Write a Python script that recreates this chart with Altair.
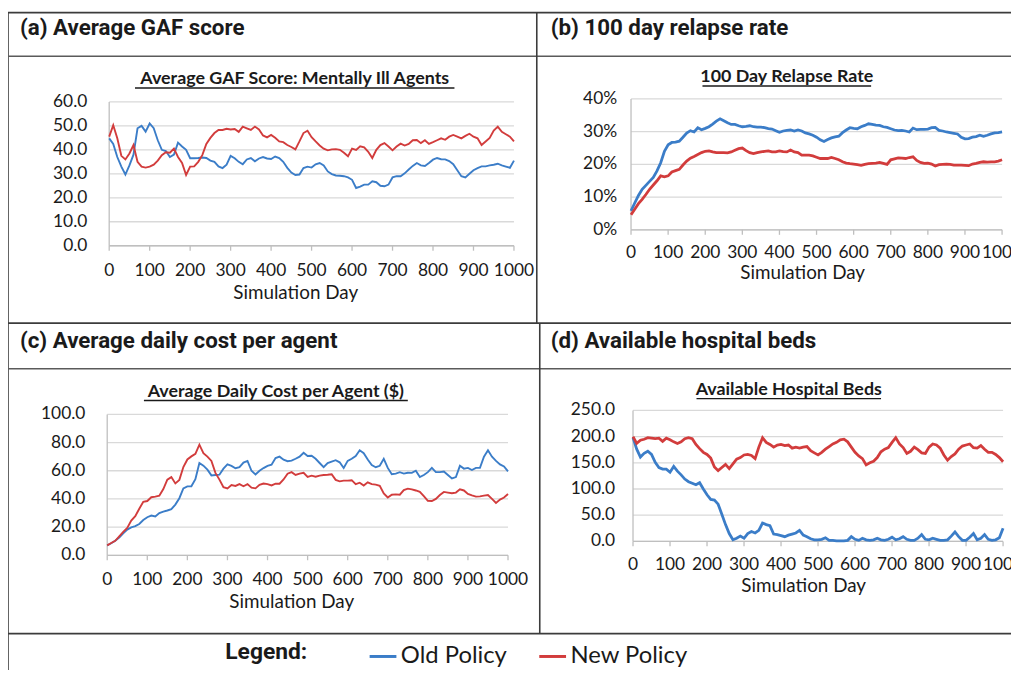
import altair as alt
import pandas as pd

# ---------------- data ----------------
days = list(range(0, 1001, 10))

gaf_old = [44.8, 42.5, 37, 33, 29.7, 33.5, 38, 49, 50, 47.6,
           51, 49, 44, 40, 39.5, 37, 38, 43, 41.4, 40,
           36.5, 36.5, 36.6, 36.8, 36.6, 35.5, 35, 33.1, 32.4, 33.8,
           37.5, 36.5, 35, 34, 36, 36.6, 35.2, 36.4, 37, 36.4,
           36.2, 37.2, 36.6, 35, 32.5, 30.5, 29.5, 29.7, 32.4, 33,
           32.6, 34, 34.5, 33.5, 31, 29.9, 29.3, 29.2, 29, 28.5,
           27.5, 24.1, 24.7, 25.5, 25.5, 26.9, 26.5, 25, 24.8, 25.5,
           28.5, 29, 29, 30.2, 31.8, 33.3, 34.5, 33.5, 33.3, 34.5,
           35.9, 36.6, 36.1, 36, 35.3, 34, 31.5, 29, 28.5, 30,
           31.5, 32.4, 33.1, 33.1, 33.5, 33.8, 34.2, 33.5, 33, 32.5,
           35.5]
gaf_new = [45.5, 50.3, 44.8, 37.5, 36, 38.5, 42, 35, 33, 32.6,
           33, 33.8, 35.5, 37.8, 39, 38.8, 40.5, 37, 34.5, 29.5,
           33, 33.1, 35, 37.8, 42.5, 45, 47, 48.3, 48.3, 48.8,
           48.5, 48.7, 47.5, 49.7, 49, 48.3, 49.7, 48.5, 46, 45.2,
           46.2, 45, 43.5, 43.2, 42, 41.2, 40.2, 43.5, 47, 48,
           45.3, 43.5, 41.8, 40.5, 39.8, 40.2, 40.3, 40, 38.8, 37.3,
           40.5, 40, 41.5, 41, 39.2, 36.6, 40, 42, 42.8, 41.4,
           39.8, 41.4, 42.6, 41.8, 42.5, 44, 44.1, 42.8, 44, 42.5,
           43.2, 44, 44.8, 44.2, 45.5, 46.2, 45.5, 44.8, 45.8, 46.7,
           45.5, 44.8, 42, 43.5, 45, 48, 49.7, 47.5, 46.5, 45.5,
           43.5]

relapse_old = [5.8, 8.2, 10.5, 12.4, 13.6, 14.8, 16, 18, 20.5, 24,
               26, 26.7, 26.8, 27.1, 28.3, 29.6, 30.3, 29.9, 31.2, 30.6,
               31, 31.5, 32.3, 33.2, 33.9, 33.3, 32.7, 32.2, 32.2, 31.8,
               31.5, 31.6, 31.8, 31.5, 31.4, 31.4, 31.2, 30.9, 30.8, 30.3,
               29.8, 30.2, 30.4, 30.5, 30.2, 30.5, 30.2, 29.6, 29.3, 28.9,
               28.3, 27.5, 27, 27.6, 28.1, 28.4, 28.6, 29.7, 30.5, 31.2,
               31, 30.9, 31.5, 31.9, 32.4, 32.2, 32, 31.9, 31.5, 31.3,
               30.9, 30.5, 30.3, 30.4, 30.2, 29.9, 31.1, 30.6, 30.7, 30.7,
               30.8, 31.2, 31.3, 30.4, 30.2, 29.9, 29.7, 29.5, 29.3, 28.3,
               27.8, 27.9, 28.3, 28.5, 28.9, 28.6, 28.9, 29.3, 29.6, 29.7,
               29.9]
relapse_new = [4.6, 6.3, 8, 9.3, 10.8, 12.4, 13.7, 15, 16.5, 16.2,
               16.5, 17.7, 18.1, 18.5, 19.8, 21, 21.9, 22.4, 23, 23.6,
               24, 24.1, 23.8, 23.6, 23.6, 23.6, 23.5, 23.8, 24.3, 24.8,
               25, 24.2, 23.6, 23.3, 23.6, 23.8, 24, 24.1, 23.8, 23.8,
               24.1, 23.9, 23.8, 24.4, 23.8, 23.6, 22.8, 22.8, 22.8, 22.6,
               22.2, 21.8, 21.8, 21.8, 22.1, 21.8, 21.4, 20.8, 20.4, 20.2,
               20.1, 19.9, 19.7, 20, 20.2, 20.3, 20.4, 20.6, 20.3, 20,
               21.4, 21.7, 22, 21.9, 21.8, 22.1, 22.3, 21.2, 20.6, 20.3,
               20.4, 20.1, 19.5, 19.9, 20, 20.1, 20, 19.8, 19.8, 19.8,
               19.7, 19.6, 20.1, 20.3, 20.6, 20.8, 20.7, 20.8, 20.8, 21,
               21.4]

cost_old = [7, 8.5, 10.3, 12.6, 15.5, 18.2, 19.8, 20.7, 22.2, 25,
            27, 28.2, 27.5, 30, 31, 31.8, 32.8, 36, 40.5, 47.4,
            48.9, 49, 54, 65.5, 63.6, 60.8, 56.7, 57, 57.2, 61.5,
            64.5, 63.5, 61.8, 62.5, 65.8, 67, 60, 57.3, 60, 61.9,
            63.5, 64.3, 69, 70, 67.8, 66.8, 67.2, 68.5, 70, 72.8,
            70.5, 70.6, 68.5, 65.5, 62.6, 65.5, 66.5, 67.5, 66, 62,
            67, 68.5, 70.5, 74.5, 72.5, 68, 64, 62.5, 63.5, 68.5,
            62, 57.5, 58, 59, 58, 58.6, 58.5, 60, 55.5, 57,
            59, 62, 59, 59, 59.5, 57, 54.6, 55.5, 63.5, 61.5,
            62, 60.5, 62, 62, 70, 74.5, 70, 67, 64.5, 63,
            59.5]
cost_new = [7, 8.7, 10.3, 13.5, 16.6, 19.4, 24.6, 27.7, 33, 38,
            38.5, 41.2, 41.6, 42.3, 47, 53.7, 55.5, 51, 53.5, 62.6,
            68, 70.2, 72, 78.5, 72.5, 70, 67, 58.5, 53.7, 48.3,
            47.5, 49.8, 49.2, 50.5, 49, 50.5, 48, 47.5, 50, 50.9,
            50.5, 49.6, 50.8, 50.8, 53.8, 57.9, 59, 57, 58, 58.5,
            55.6, 56.5, 55.8, 56.5, 57, 57.2, 57.5, 53.5, 52.5, 53,
            53, 53.3, 50.5, 51.5, 49.5, 51.8, 50.5, 50.2, 49.3, 43.9,
            41, 43, 43.2, 43, 46.3, 47.3, 46.8, 46, 45, 42,
            38.6, 38.5, 40, 42.8, 45, 44.5, 44, 44.5, 46.8, 46,
            43.5, 42.5, 41.6, 41.8, 42.3, 42.8, 40, 37.2, 39.5, 41,
            43.5]

beds_old = [198, 176, 161, 168, 172, 166, 151, 141, 138, 138,
            132, 143, 134, 127, 119, 114, 111, 108, 112, 100,
            89, 80, 79, 71, 52, 32, 15, 3, 6, 10,
            6, 15, 19, 16, 21, 35, 32, 30, 14, 13,
            11, 9, 12, 14, 16, 21, 12, 9, 5, 3,
            3, 4, 7, 2, 2, 1, 1, 1, 2, 9,
            4, 2, 6, 3, 2, 3, 6, 3, 2, 4,
            8, 3, 5, 9, 4, 2, 2, 6, 13, 4,
            3, 6, 4, 2, 2, 3, 10, 18, 9, 2,
            2, 8, 15, 3, 6, 13, 4, 2, 3, 7,
            25]
beds_new = [200, 187, 193, 195, 198, 197, 196, 197, 191, 197,
            194, 190, 187, 190, 196, 198, 196, 185, 177, 170,
            166, 159, 142, 135, 141, 147, 139, 148, 157, 160,
            165, 166, 164, 158, 180, 198, 189, 185, 180, 184,
            185, 183, 184, 178, 180, 178, 180, 181, 173, 169,
            165, 170, 176, 181, 186, 189, 194, 195, 190, 180,
            170, 163, 158, 146, 150, 153, 160, 171, 176, 179,
            189, 198, 186, 179, 168, 172, 180, 175, 169, 168,
            180, 186, 184, 178, 165, 155, 162, 167, 176, 182,
            184, 186, 179, 178, 183, 176, 170, 170, 166, 160,
            152]

policies = ["Old Policy", "New Policy"]
x_ticks = list(range(0, 1001, 100))
x_tick_labels = [str(t) for t in x_ticks]
gaf_ticks = [0, 10, 20, 30, 40, 50, 60]
gaf_tick_labels = ["0.0", "10.0", "20.0", "30.0", "40.0", "50.0", "60.0"]
relapse_ticks = [0, 10, 20, 30, 40]
relapse_tick_labels = ["0%", "10%", "20%", "30%", "40%"]
cost_ticks = [0, 20, 40, 60, 80, 100]
cost_tick_labels = ["0.0", "20.0", "40.0", "60.0", "80.0", "100.0"]
beds_ticks = [0, 50, 100, 150, 200, 250]
beds_tick_labels = ["0.0", "50.0", "100.0", "150.0", "200.0", "250.0"]

headers = ["(a) Average GAF score", "(b) 100 day relapse rate",
           "(c) Average daily cost per agent", "(d) Available hospital beds"]
chart_titles = ["Average GAF Score: Mentally Ill Agents", "100 Day Relapse Rate",
                "Average Daily Cost per Agent ($)", "Available Hospital Beds"]
x_title = "Simulation Day"
legend_word = "Legend:"

# ---------------- styles ----------------
M = 8  # page margin
LINE_COLORS = ["#3B7DC8", "#D23C3C"]
GRID = "#D9D9D9"
AXIS = "#BFBFBF"
BORDER = "#3C3C3C"
TXT = "#1A1A1A"
FONT = "Lato"
HFONT = "Roboto"

LEG = alt.Legend(orient="none", legendX=371 - M, legendY=644 - M, direction="horizontal",
                 title=None, symbolType="stroke", symbolStrokeWidth=3, symbolSize=729,
                 labelFont=FONT, labelFontSize=24, labelColor=TXT, labelOffset=3,
                 columnPadding=26, padding=0)

geo = [
    dict(x0=110, x1=518, yb=245, yt=100, lab_r=88, xlab_y=270, xt=(298, 293),
         tt=(297, 77), ul=(136, 458, 86), hd=(20, 26), sw=1.9),
    dict(x0=636, x1=1010, yb=229, yt=97, lab_r=622, xlab_y=252, xt=(809, 273),
         tt=(793, 75), ul=(708, 878, 84), hd=(555, 26), sw=2.8),
    dict(x0=108, x1=512, yb=557, yt=415, lab_r=86, xlab_y=582, xt=(294, 604),
         tt=(278, 392), ul=(145, 411, 401), hd=(20, 341), sw=1.9),
    dict(x0=638, x1=1011, yb=543, yt=411, lab_r=620, xlab_y=567, xt=(810, 588),
         tt=(795, 390), ul=(702, 888, 399), hd=(555, 341), sw=2.8),
]
series = [(gaf_old, gaf_new, gaf_ticks, gaf_tick_labels),
          (relapse_old, relapse_new, relapse_ticks, relapse_tick_labels),
          (cost_old, cost_new, cost_ticks, cost_tick_labels),
          (beds_old, beds_new, beds_ticks, beds_tick_labels)]

one = alt.Data(values=[{}])


def text_layer(txt, x, y, size, font=FONT, bold=False, align="left"):
    return alt.Chart(pd.DataFrame({"t": [txt]})).mark_text(
        align=align, baseline="middle", font=font, fontSize=size,
        fontWeight="bold" if bold else "normal", color=TXT
    ).encode(x=alt.value(x - M), y=alt.value(y - M), text="t:N")


def rule_px(x1, y1, x2, y2, color=BORDER, w=1.6):
    return alt.Chart(one).mark_rule(color=color, strokeWidth=w).encode(
        x=alt.value(x1 - M), y=alt.value(y1 - M), x2=alt.value(x2 - M), y2=alt.value(y2 - M))


layers = []
for i, (old, new, ticks, tlabels) in enumerate(series):
    g = geo[i]
    xs = alt.Scale(domain=[0, 1000], range=[g["x0"] - M, g["x1"] - M], nice=False, zero=False)
    ys = alt.Scale(domain=[ticks[0], ticks[-1]], range=[g["yb"] - M, g["yt"] - M],
                   nice=False, zero=False)
    line_df = pd.DataFrame({
        "day": days * 2,
        "value": old + new,
        "policy": [policies[0]] * len(days) + [policies[1]] * len(days),
    })
    tick_df = pd.DataFrame({"v": ticks, "label": tlabels, "a": 0, "b": 1000})
    xt_df = pd.DataFrame({"d": x_ticks, "label": x_tick_labels, "z": ticks[0]})
    ax_df = pd.DataFrame({"d": [0], "lo": [ticks[0]], "hi": [ticks[-1]], "a": [0], "b": [1000]})

    grid = alt.Chart(tick_df).mark_rule(color=GRID, strokeWidth=1.3).encode(
        y=alt.Y("v:Q", scale=ys, axis=None),
        x=alt.X("a:Q", scale=xs, axis=None), x2="b:Q")
    yaxis = alt.Chart(ax_df).mark_rule(color=AXIS, strokeWidth=1.3).encode(
        x=alt.X("d:Q", scale=xs, axis=None),
        y=alt.Y("lo:Q", scale=ys, axis=None), y2="hi:Q")
    xaxis = alt.Chart(ax_df).mark_rule(color=AXIS, strokeWidth=1.3).encode(
        y=alt.Y("lo:Q", scale=ys, axis=None),
        x=alt.X("a:Q", scale=xs, axis=None), x2="b:Q")
    xtick = alt.Chart(xt_df).mark_rule(color=AXIS, strokeWidth=1.3, y2Offset=5).encode(
        x=alt.X("d:Q", scale=xs, axis=None),
        y=alt.Y("z:Q", scale=ys, axis=None), y2="z:Q")
    lines = alt.Chart(line_df).mark_line(strokeWidth=g["sw"]).encode(
        x=alt.X("day:Q", scale=xs, axis=None),
        y=alt.Y("value:Q", scale=ys, axis=None),
        color=alt.Color("policy:N", scale=alt.Scale(domain=policies, range=LINE_COLORS),
                        legend=LEG, sort=policies))
    ylab = alt.Chart(tick_df).mark_text(align="right", baseline="middle", font=FONT,
                                        fontSize=17.5, color=TXT).encode(
        y=alt.Y("v:Q", scale=ys, axis=None), x=alt.value(g["lab_r"] - M), text="label:N")
    xlab = alt.Chart(xt_df).mark_text(align="center", baseline="middle", font=FONT,
                                      fontSize=17.5, color=TXT).encode(
        x=alt.X("d:Q", scale=xs, axis=None), y=alt.value(g["xlab_y"] - M), text="label:N")

    layers += [grid, yaxis, xaxis, xtick, lines, ylab, xlab]
    layers.append(text_layer(x_title, g["xt"][0], g["xt"][1], 19, align="center"))
    layers.append(text_layer(chart_titles[i], g["tt"][0], g["tt"][1], 18, bold=True, align="center"))
    layers.append(rule_px(g["ul"][0], g["ul"][2], g["ul"][1], g["ul"][2], color=TXT, w=1.3))
    layers.append(text_layer(headers[i], g["hd"][0], g["hd"][1], 22.5, font=HFONT, bold=True))

# frame lines
layers += [
    rule_px(8, 10, 1019, 10),
    rule_px(8, 10, 8, 678),
    rule_px(8, 54, 1019, 54, color="#5A5A5A"),
    rule_px(8, 323, 1019, 323),
    rule_px(8, 369, 1019, 369, color="#5A5A5A"),
    rule_px(8, 636, 1019, 636),
    rule_px(541, 10, 541, 323),
    rule_px(544, 323, 544, 636),
]
layers.append(text_layer(legend_word, 227, 655, 23, font=HFONT, bold=True))

chart = alt.layer(*layers).resolve_scale(x="independent", y="independent").properties(
    width=1011, height=662, padding=0,
    autosize=alt.AutoSizeParams(type="none"),
).configure_view(stroke=None)

chart.save("out.html", embed_options={"renderer": "svg", "actions": False})
